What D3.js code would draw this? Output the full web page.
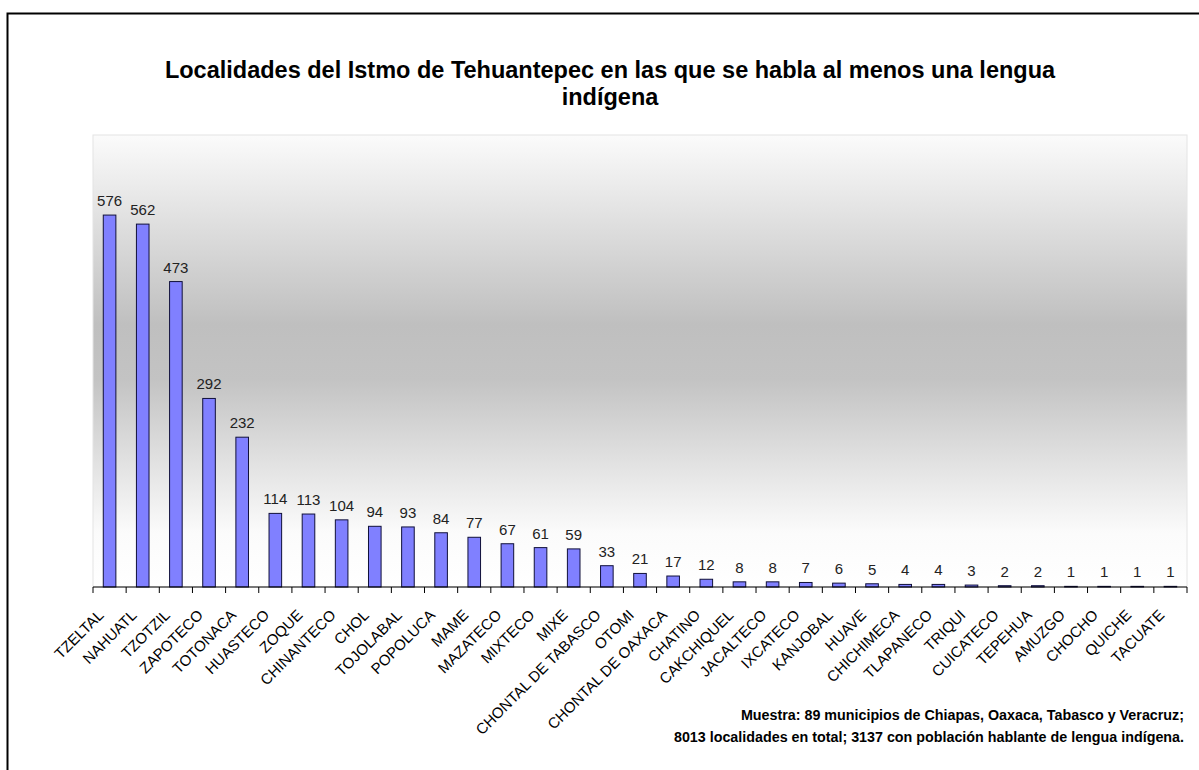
<!DOCTYPE html>
<html>
<head>
<meta charset="utf-8">
<script src="https://cdn.jsdelivr.net/npm/d3@7"></script>
<style>
  body { margin: 0; background: #fff; }
  svg { display: block; font-family: Arial, "Liberation Sans", sans-serif; }
</style>
</head>
<body>
<svg id="chart" width="1199" height="770"></svg>
<script>
var lenguas = ["TZELTAL", "NAHUATL", "TZOTZIL", "ZAPOTECO", "TOTONACA", "HUASTECO", "ZOQUE",
    "CHINANTECO", "CHOL", "TOJOLABAL", "POPOLUCA", "MAME", "MAZATECO", "MIXTECO", "MIXE",
    "CHONTAL DE TABASCO", "OTOMI", "CHONTAL DE OAXACA", "CHATINO", "CAKCHIQUEL", "JACALTECO",
    "IXCATECO", "KANJOBAL", "HUAVE", "CHICHIMECA", "TLAPANECO", "TRIQUI", "CUICATECO",
    "TEPEHUA", "AMUZGO", "CHOCHO", "QUICHE", "TACUATE"];
var localidades = [576, 562, 473, 292, 232, 114, 113, 104, 94, 93, 84, 77, 67, 61, 59,
    33, 21, 17, 12, 8, 8, 7, 6, 5, 4, 4, 3, 2, 2, 1, 1, 1, 1];
var titulo = ["Localidades del Istmo de Tehuantepec en las que se habla al menos una lengua", "indígena"];
var nota = ["Muestra:  89 municipios de Chiapas, Oaxaca, Tabasco y Veracruz;",
    "8013 localidades en total; 3137 con población hablante de lengua indígena."];

var data = lenguas.map(function(d, i) { return {x: d, y: localidades[i]}; });

var svg = d3.select("#chart");
var margin = {top: 135, right: 12, bottom: 183, left: 93};
var width = 1199 - margin.left - margin.right;
var height = 770 - margin.top - margin.bottom;

// marco exterior
svg.append("rect")
    .attr("x", 7.5).attr("y", 13.5)
    .attr("width", 1210).attr("height", 780)
    .attr("fill", "none")
    .attr("stroke", "#000")
    .attr("stroke-width", 2);

var grad = svg.append("defs").append("linearGradient")
    .attr("id", "fondo")
    .attr("x1", 0).attr("y1", 0).attr("x2", 0).attr("y2", 1);
grad.append("stop").attr("offset", "0%").attr("stop-color", "#fbfbfb");
grad.append("stop").attr("offset", "42%").attr("stop-color", "#bfbfbf");
grad.append("stop").attr("offset", "54%").attr("stop-color", "#c3c3c3");
grad.append("stop").attr("offset", "88%").attr("stop-color", "#fbfbfb");
grad.append("stop").attr("offset", "100%").attr("stop-color", "#ffffff");

var g = svg.append("g")
    .attr("transform", "translate(" + margin.left + "," + margin.top + ")");

g.append("rect")
    .attr("width", width)
    .attr("height", height)
    .attr("fill", "url(#fondo)")
    .attr("stroke", "#e4e4e4");

var x = d3.scaleBand()
    .domain(lenguas)
    .range([0, width])
    .paddingInner(0.62)
    .paddingOuter(0.31);

var y = d3.scaleLinear()
    .domain([0, 700])
    .range([height, 0]);

g.selectAll(".bar")
    .data(data)
    .enter().append("rect")
    .attr("class", "bar")
    .attr("x", function(d) { return x(d.x); })
    .attr("y", function(d) { return y(d.y); })
    .attr("width", x.bandwidth())
    .attr("height", function(d) { return height - y(d.y); })
    .attr("fill", "#8080ff")
    .attr("stroke", "#10103a")
    .attr("stroke-width", 1);

g.selectAll(".valor")
    .data(data)
    .enter().append("text")
    .attr("class", "valor")
    .attr("x", function(d) { return x(d.x) + x.bandwidth() / 2; })
    .attr("y", function(d) { return y(d.y) - 9; })
    .attr("text-anchor", "middle")
    .attr("font-size", 15)
    .attr("fill", "#222")
    .text(function(d) { return d.y; });

// eje x con marcas entre categorías
var step = x.step();
var xAxis = g.append("g")
    .attr("transform", "translate(0," + height + ")");
xAxis.append("line")
    .attr("x1", 0).attr("x2", width)
    .attr("stroke", "#000");
xAxis.selectAll(".marca")
    .data(d3.range(lenguas.length + 1))
    .enter().append("line")
    .attr("class", "marca")
    .attr("x1", function(i) { return i * step; })
    .attr("x2", function(i) { return i * step; })
    .attr("y1", 0).attr("y2", 6)
    .attr("stroke", "#000");

xAxis.selectAll(".etiqueta")
    .data(lenguas)
    .enter().append("text")
    .attr("class", "etiqueta")
    .attr("transform", function(d) {
        return "translate(" + (x(d) + x.bandwidth() / 2 - 5) + ",29) rotate(-45)";
    })
    .attr("text-anchor", "end")
    .attr("font-size", 15)
    .attr("fill", "#000")
    .text(function(d) { return d; });

svg.selectAll(".titulo")
    .data(titulo)
    .enter().append("text")
    .attr("class", "titulo")
    .attr("x", 610)
    .attr("y", function(d, i) { return 78 + i * 27; })
    .attr("text-anchor", "middle")
    .attr("font-size", 23.5)
    .attr("font-weight", "bold")
    .text(function(d) { return d; });

svg.selectAll(".nota")
    .data(nota)
    .enter().append("text")
    .attr("class", "nota")
    .attr("x", 1184)
    .attr("y", function(d, i) { return 720 + i * 22; })
    .attr("text-anchor", "end")
    .attr("font-size", 14.3)
    .attr("font-weight", "bold")
    .text(function(d) { return d; });
</script>
</body>
</html>
